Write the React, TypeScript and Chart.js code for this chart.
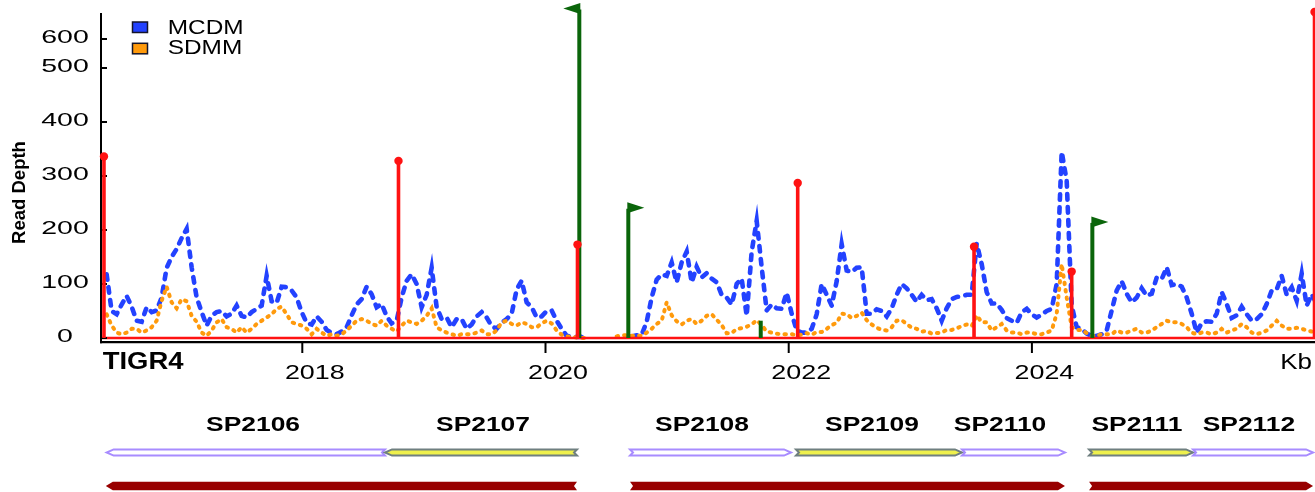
import React, { useEffect, useRef } from "react";
import { Chart, registerables } from "chart.js";

Chart.register(...registerables);

// Sampling grid of the coverage tracks (kb)
const KB_START = 2016.391;
const KB_STEP = 0.04112;
const X_MIN = 2016.3446;
const X_MAX = 2026.328;

// Read depth, MCDM library (null = no coverage)
const MCDM: (number | null)[] = [
  118, 50, 44, 62, 78, 58, 32, 30, 57, 48,
  51, 75, 130, 150, 165, 185, 202, 131, 75, 48,
  23, 41, 48, 50, 40, 45, 60, 41, 38, 48,
  54, 60, 115, 68, 65, 95, 94, 88, 75, 48,
  28, 25, 40, 30, 15, 9, 7, 12, 20, 42,
  62, 72, 95, 81, 57, 63, 40, 27, 32, 75,
  106, 118, 100, 57, 80, 130, 57, 35, 38, 20,
  35, 35, 17, 25, 40, 48, 38, 22, 17, 28,
  35, 45, 90, 106, 66, 57, 38,
  40, 50, 51, 32, 17, 4, 2, 2, 2, 1,
  null, null, null, null, null, null, null, null,
  3, 5, 6, 30, 75, 108, 118, 115, 140, 103,
  140, 160, 103, 132, 112, 120, 110, 103, 80, 75,
  62, 100, 110, 41, 160, 217, 131, 51, 62, 55,
  54, 84, 45, 14, 10, 10, 17, 44, 100, 80,
  60, 105, 174, 125, 122, 130, 131, 45, 45, 53,
  50, 40, 55, 80, 100, 92, 80, 67, 80, 70,
  72, 55, 32, 55, 72, 76, 77, 80,
  80, 175, 137, 85, 64, 64, 52, 37, 32, 28,
  48, 54, 44, 38, 43, 50, 54, 100, 345, 291,
  60, 20, 17, 8, 4, 4, 7, 14, 51, 88,
  105, 82, 66, 75, 92, 78, 82, 112, 109, 131,
  98, 100, 95, 75, 45, 10, 28, 31, 30, 45,
  85, 63, 37, 42, 58, 44, 32, 35, 44, 63,
  88, 90, 115, 80, 94, 69, 119, 60, 81, 63,
];

// Read depth, SDMM library
const SDMM: (number | null)[] = [
  44, 23, 10, 7, 10, 17, 17, 10, 14, 20,
  32, 69, 95, 66, 55, 72, 68, 41, 30, 10,
  4, 14, 29, 35, 20, 17, 10, 20, 10, 17,
  26, 32, 38, 44, 54, 58, 44, 29, 26, 23,
  17, 7, 17, 10, 4, 7, 4, 7, 14, 23,
  32, 35, 32, 26, 23, 32, 23, 17, 12, 23,
  32, 29, 26, 32, 41, 55, 20, 14, 10, 7,
  4, 7, 7, 7, 10, 14, 7, 7, 14, 29,
  32, 26, 23, 29, 26, 20, 20,
  27, 32, 27, 14, 6, 3, 2, 1, 0, 0,
  null, null, null, null, null, 3, 5, 5, 4, 4,
  4, 10, 17, 26, 32, 66, 42, 31, 25, 32,
  35, 26, 32, 41, 44, 34, 24, 9, 9, 17,
  18, 21, 25, 33, 24, 12, 10, 8, 7, 7,
  7, 5, 6, 9, 6, 11, 11, 17, 24, 28,
  45, 44, 37, 41, 47, 33, 25, 19, 15, 14,
  20, 32, 33, 26, 19, 17, 12, 13, 8, 9,
  10, 15, 15, 18, 22, 25,
  22, 42, 29, 29, 14, 20, 26, 14, 10, 10,
  7, 10, 10, 7, 7, 10, 14, 45, 137, 75,
  20, 15, 15, 9, 4, 4, 7, 7, 7, 14,
  10, 10, 14, 17, 10, 10, 14, 20, 26, 32,
  29, 29, 26, 20, 10, 7, 10, 10, 7, 10,
  17, 10, 14, 17, 26, 20, 10, 7, 10, 14,
  23, 32, 23, 17, 17, 19, 17, 14, 12, 7,
];

const SERIES_NAMES = ["MCDM", "SDMM"];
const X_TICKS = [2018, 2020, 2022, 2024];
const Y_TICKS = [0, 100, 200, 300, 400, 500, 600];

// Transcription start sites (red lollipops)
const SITE_KB = [2016.369, 2018.791, 2020.263, 2022.074, 2023.524, 2024.327, 2026.324];
const SITE_DEPTH = [336, 328, 173, 287, 169, 123, 693];

// Promoter flags (green), direction -1 left, 1 right, 0 none
const FLAG_KB = [2020.278, 2020.681, 2021.77, 2024.497];
const FLAG_DEPTH = [705, 241, 32, 215];
const FLAG_DIR = [-1, 1, 0, 1];

// Genes
const GENE_NAMES = ["SP2106", "SP2107", "SP2108", "SP2109", "SP2110", "SP2111", "SP2112"];
const GENE_START = [2016.391, 2018.68, 2020.695, 2022.06, 2023.425, 2024.47, 2025.325];
const GENE_END = [2018.68, 2020.259, 2022.019, 2023.425, 2024.272, 2025.325, 2026.312];
const GENE_STRAND = [-1, -1, 1, 1, 1, 1, 1];
const GENE_MARKED = [false, true, false, true, false, true, false];
const GENE_LABEL_KB = [2017.595, 2019.486, 2021.287, 2022.685, 2023.738, 2024.864, 2025.785];

// Operons
const OPERON_START = [2016.384, 2020.695, 2024.47];
const OPERON_END = [2020.259, 2024.272, 2026.312];
const OPERON_STRAND = [-1, 1, 1];

// Axis above 500 is compressed
const BREAK = 500;
const SQUEEZE = 0.537;
const toAxis = (v: number) => (v <= BREAK ? v : BREAK + (v - BREAK) * SQUEEZE);

const BLUE = "#2342ff";
const ORANGE = "#ff9a0c";
const RED = "#ff1212";
const GREEN = "#0a650a";
const FONT = "'Liberation Sans', Arial, sans-serif";

function stretchText(
  ctx: CanvasRenderingContext2D,
  text: string,
  x: number,
  y: number,
  font: string,
  sx: number,
  align: "left" | "center" | "right"
) {
  ctx.save();
  ctx.font = font;
  ctx.textAlign = "left";
  ctx.textBaseline = "alphabetic";
  const w = ctx.measureText(text).width * sx;
  const x0 = align === "center" ? x - w / 2 : align === "right" ? x - w : x;
  ctx.translate(x0, y);
  ctx.scale(sx, 1);
  ctx.fillStyle = "#000";
  ctx.fillText(text, 0, 0);
  ctx.restore();
}

function arrowPath(
  ctx: CanvasRenderingContext2D,
  a: number,
  b: number,
  yc: number,
  h: number,
  strand: number,
  tip: number,
  notch: number
) {
  const t = h / 2;
  ctx.beginPath();
  if (strand > 0) {
    ctx.moveTo(a, yc - t);
    ctx.lineTo(b - tip, yc - t);
    ctx.lineTo(b, yc);
    ctx.lineTo(b - tip, yc + t);
    ctx.lineTo(a, yc + t);
    ctx.lineTo(a + notch, yc);
  } else {
    ctx.moveTo(b, yc - t);
    ctx.lineTo(a + tip, yc - t);
    ctx.lineTo(a, yc);
    ctx.lineTo(a + tip, yc + t);
    ctx.lineTo(b, yc + t);
    ctx.lineTo(b - notch, yc);
  }
  ctx.closePath();
}

const overlay = {
  id: "trackOverlay",
  afterDatasetsDraw(chart: any) {
    const ctx: CanvasRenderingContext2D = chart.ctx;
    const xs = chart.scales.x;
    const ys = chart.scales.y;
    const px = (kb: number) => xs.getPixelForValue(kb);
    const py = (v: number) => ys.getPixelForValue(toAxis(v));
    const { left, right, top, bottom } = chart.chartArea;
    const base = py(0);

    ctx.save();
    ctx.lineCap = "butt";

    // zero line
    ctx.strokeStyle = RED;
    ctx.lineWidth = 2.7;
    ctx.beginPath();
    ctx.moveTo(left, base);
    ctx.lineTo(right, base);
    ctx.stroke();

    // axes
    ctx.strokeStyle = "#000";
    ctx.lineWidth = 2.3;
    ctx.beginPath();
    ctx.moveTo(left - 1, bottom + 0.2);
    ctx.lineTo(right, bottom + 0.2);
    ctx.stroke();
    ctx.lineWidth = 2;
    ctx.beginPath();
    ctx.moveTo(left, top);
    ctx.lineTo(left, bottom + 1.3);
    ctx.stroke();
    Y_TICKS.forEach((t) => {
      const y = py(t);
      ctx.beginPath();
      ctx.moveTo(left, y);
      ctx.lineTo(left + 6, y);
      ctx.stroke();
    });
    X_TICKS.forEach((t) => {
      const x = px(t);
      ctx.beginPath();
      ctx.moveTo(x, bottom);
      ctx.lineTo(x, bottom + 11);
      ctx.stroke();
    });

    // promoter flags
    ctx.strokeStyle = GREEN;
    ctx.fillStyle = GREEN;
    ctx.lineWidth = 4;
    FLAG_KB.forEach((kb, i) => {
      const x = px(kb);
      const y = py(FLAG_DEPTH[i]);
      const d = FLAG_DIR[i];
      ctx.beginPath();
      ctx.moveTo(x, base);
      ctx.lineTo(x, d === 0 ? y : y + 1);
      ctx.stroke();
      if (d !== 0) {
        ctx.beginPath();
        ctx.moveTo(x - d * 1, y - 5.5);
        ctx.lineTo(x - d * 1, y + 5.5);
        ctx.lineTo(x + d * 16, y);
        ctx.closePath();
        ctx.fill();
      }
    });

    // start sites
    ctx.strokeStyle = RED;
    ctx.fillStyle = RED;
    ctx.lineWidth = 3.6;
    SITE_KB.forEach((kb, i) => {
      const x = px(kb);
      const y = py(SITE_DEPTH[i]);
      ctx.beginPath();
      ctx.moveTo(x, base);
      ctx.lineTo(x, y);
      ctx.stroke();
      ctx.beginPath();
      ctx.arc(x, y, 4.2, 0, Math.PI * 2);
      ctx.fill();
    });

    // genes
    ctx.lineJoin = "miter";
    GENE_NAMES.forEach((_, i) => {
      arrowPath(ctx, px(GENE_START[i]), px(GENE_END[i]), 452.5, 6.2, GENE_STRAND[i], 7, 3);
      ctx.fillStyle = GENE_MARKED[i] ? "#eef04c" : "#ffffff";
      ctx.fill();
      ctx.strokeStyle = GENE_MARKED[i] ? "#6f7f80" : "#a88cff";
      ctx.lineWidth = 2;
      ctx.stroke();
    });

    // operons
    ctx.fillStyle = "#980000";
    OPERON_START.forEach((s, i) => {
      arrowPath(ctx, px(s), px(OPERON_END[i]), 486, 8.6, OPERON_STRAND[i], 7, 3);
      ctx.fill();
    });
    ctx.restore();
  },
  afterDraw(chart: any) {
    const ctx: CanvasRenderingContext2D = chart.ctx;
    const xs = chart.scales.x;
    const ys = chart.scales.y;
    const px = (kb: number) => xs.getPixelForValue(kb);
    const py = (v: number) => ys.getPixelForValue(toAxis(v));

    // y tick labels
    Y_TICKS.forEach((t) => {
      stretchText(ctx, String(t), 65, py(t) + 3.6, `19px ${FONT}`, 1.5, "center");
    });
    // x tick labels
    X_TICKS.forEach((t) => {
      stretchText(ctx, String(t), px(t) + 12.5, 379.3, `21px ${FONT}`, 1.28, "center");
    });
    stretchText(ctx, "TIGR4", 102.7, 369.3, `bold 24.5px ${FONT}`, 1.12, "left");
    stretchText(ctx, "Kb", 1312, 369.3, `22px ${FONT}`, 1.18, "right");

    // y title
    ctx.save();
    ctx.translate(24.5, 192.5);
    ctx.rotate(-Math.PI / 2);
    ctx.font = `bold 18.5px ${FONT}`;
    ctx.textAlign = "center";
    ctx.textBaseline = "alphabetic";
    ctx.fillStyle = "#000";
    ctx.fillText("Read Depth", 0, 0);
    ctx.restore();

    // legend
    const boxColors = [BLUE, ORANGE];
    const boxTop = [22, 43.3];
    const textBase = [34.3, 54.3];
    SERIES_NAMES.forEach((name, i) => {
      ctx.save();
      ctx.fillStyle = boxColors[i];
      ctx.strokeStyle = "#15152a";
      ctx.lineWidth = 1.5;
      ctx.fillRect(132.5, boxTop[i], 15, 10.5);
      ctx.strokeRect(132.5, boxTop[i], 15, 10.5);
      ctx.restore();
      stretchText(ctx, name, 167.7, textBase[i], `20px ${FONT}`, 1.22, "left");
    });

    // gene names
    GENE_NAMES.forEach((name, i) => {
      stretchText(ctx, name, px(GENE_LABEL_KB[i]), 431, `bold 20px ${FONT}`, 1.32, "center");
    });
  },
};

export default function App() {
  const ref = useRef<HTMLCanvasElement>(null);

  useEffect(() => {
    if (!ref.current) return;
    const toPoints = (arr: (number | null)[]) =>
      arr.map((v, i) => ({ x: KB_START + i * KB_STEP, y: v === null ? null : toAxis(v) }));

    const chart = new Chart(ref.current, {
      type: "line",
      data: {
        datasets: [
          {
            label: SERIES_NAMES[0],
            data: toPoints(MCDM) as any,
            borderColor: BLUE,
            borderWidth: 4.6,
            borderDash: [5.5, 7.5],
            borderCapStyle: "round",
            pointRadius: 0,
            tension: 0,
            spanGaps: false,
            order: 2,
          },
          {
            label: SERIES_NAMES[1],
            data: toPoints(SDMM) as any,
            borderColor: ORANGE,
            borderWidth: 4,
            borderDash: [1.5, 6],
            borderCapStyle: "round",
            pointRadius: 0,
            tension: 0,
            spanGaps: false,
            order: 1,
          },
        ],
      },
      options: {
        responsive: false,
        animation: false,
        devicePixelRatio: 1,
        events: [],
        layout: { padding: { left: 101, top: 13, right: 0, bottom: 150 } },
        plugins: { legend: { display: false }, tooltip: { enabled: false } },
        scales: {
          x: { type: "linear", display: false, min: X_MIN, max: X_MAX },
          y: { type: "linear", display: false, min: -7.41, max: 601.85 },
        },
      },
      plugins: [overlay],
    });
    return () => chart.destroy();
  }, []);

  return (
    <div style={{ position: "absolute", left: 0, top: 0, width: 1315, height: 492, background: "#fff" }}>
      <canvas ref={ref} width={1315} height={492} style={{ display: "block", width: 1315, height: 492 }} />
    </div>
  );
}
